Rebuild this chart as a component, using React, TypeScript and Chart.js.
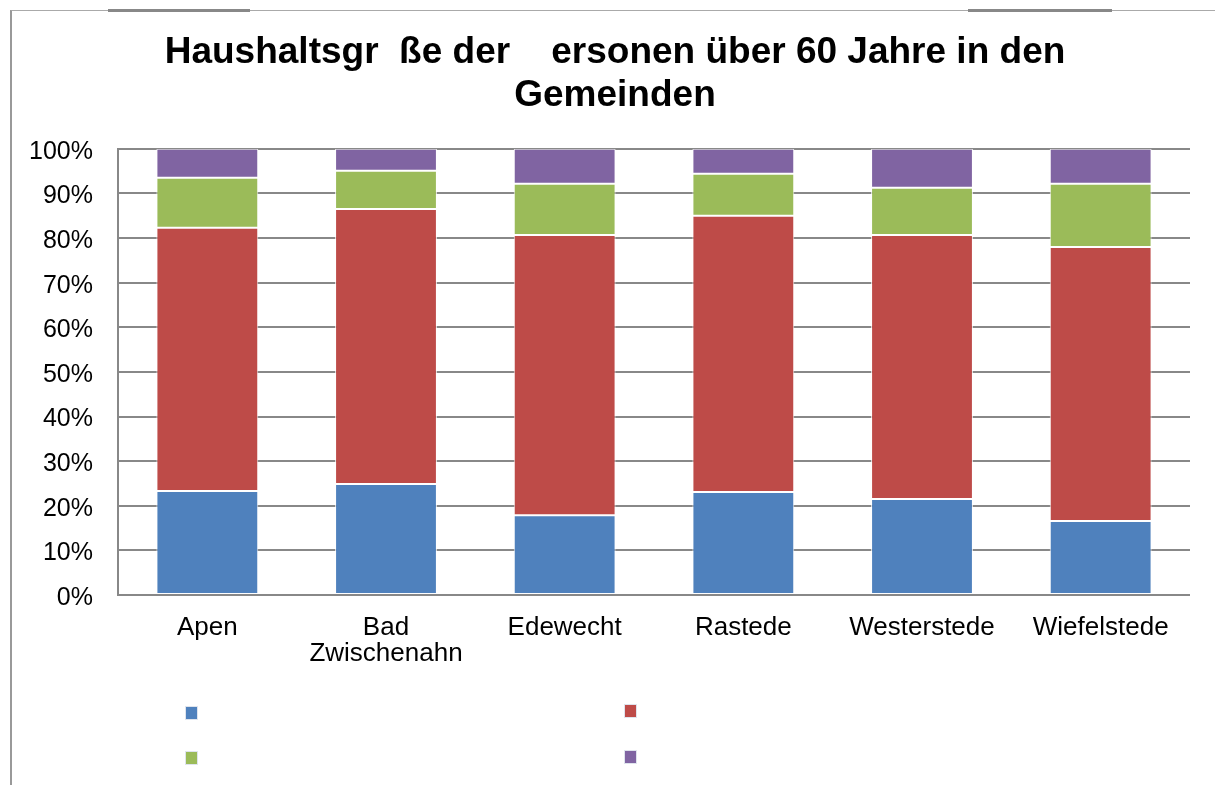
import React, { useEffect, useRef } from "react";
import { Chart, registerables } from "chart.js";

Chart.register(...registerables);

const categories = ["Apen", ["Bad", "Zwischenahn"], "Edewecht", "Rastede", "Westerstede", "Wiefelstede"];
const series1 = [23.3, 24.9, 17.9, 23.1, 21.5, 16.6];
const series2 = [59.0, 61.6, 62.8, 61.9, 59.2, 61.4];
const series3 = [11.2, 8.6, 11.5, 9.4, 10.6, 14.2];
const series4 = [6.5, 4.9, 7.8, 5.6, 8.7, 7.8];
const yTickLabels = ["0%", "10%", "20%", "30%", "40%", "50%", "60%", "70%", "80%", "90%", "100%"];
const titleLines = ["Haushaltsgr  ße der    ersonen über 60 Jahre in den", "Gemeinden"];

const colors = ["#4F81BD", "#BE4B48", "#9BBB59", "#8064A2"];
const FONT = "'Liberation Sans', Arial, Helvetica, sans-serif";

const shiftTitle = {
  id: "shiftTitle",
  afterLayout(chart: any) {
    const t = chart.titleBlock;
    if (t) {
      t.left += 40;
    }
  },
};

export default function App() {
  const ref = useRef<HTMLCanvasElement | null>(null);

  useEffect(() => {
    if (!ref.current) return;
    const seriesList = [series1, series2, series3, series4];
    const chart = new Chart(ref.current, {
      type: "bar",
      data: {
        labels: categories as any,
        datasets: seriesList.map((d, i) => ({
          label: "S" + (i + 1),
          data: d,
          backgroundColor: colors[i],
          borderColor: "rgba(255,255,255,0.85)",
          borderWidth: 1,
          borderSkipped: false,
          barPercentage: 0.57,
          categoryPercentage: 1,
        })),
      },
      plugins: [shiftTitle],
      options: {
        responsive: false,
        animation: false,
        devicePixelRatio: 1,
        layout: { padding: { left: 0, right: 25, top: 0, bottom: 0 } },
        plugins: {
          legend: { display: false },
          tooltip: { enabled: false },
          title: {
            display: true,
            text: titleLines,
            color: "#000",
            font: { family: FONT, size: 37, weight: "bold", lineHeight: 1.16 },
            padding: { top: 31, bottom: 32 },
          },
        },
        scales: {
          x: {
            stacked: true,
            grid: { display: false, drawTicks: false },
            border: { display: false },
            ticks: {
              color: "#000",
              font: { family: FONT, size: 26, lineHeight: 1.0 },
              padding: 20,
              maxRotation: 0,
              autoSkip: false,
            },
            afterFit: (s: any) => {
              s.height = 190;
            },
          },
          y: {
            stacked: true,
            min: 0,
            max: 100,
            grid: { color: "#888", lineWidth: 2, drawTicks: false },
            border: { display: true, color: "#888", width: 2 },
            ticks: {
              stepSize: 10,
              color: "#000",
              padding: 25,
              labelOffset: 3,
              font: { family: FONT, size: 25 },
              callback: (_v: any, i: number) => yTickLabels[i],
            },
            afterFit: (s: any) => {
              s.width = 118;
            },
          },
        },
      },
    });
    return () => chart.destroy();
  }, []);

  const sq = (left: number, top: number, c: string) => (
    <div
      style={{
        position: "absolute",
        left,
        top,
        width: 11,
        height: 12,
        background: c,
        boxShadow: "0 0 0 1px rgba(220,225,235,0.9)",
      }}
    />
  );

  return (
    <div style={{ position: "fixed", left: 0, top: 0, width: 1215, height: 785, background: "#fff", overflow: "hidden" }}>
      <canvas ref={ref} width={1215} height={785} style={{ position: "absolute", left: 0, top: 0 }} />
      <div style={{ position: "absolute", left: 10, top: 10, width: 1205, height: 775, borderTop: "1px solid #aaa", borderLeft: "2px solid #999", pointerEvents: "none" }} />
      <div style={{ position: "absolute", left: 108, top: 9, width: 142, height: 3, background: "#888" }} />
      <div style={{ position: "absolute", left: 968, top: 9, width: 144, height: 3, background: "#888" }} />
      {sq(186, 707, colors[0])}
      {sq(625, 705, colors[1])}
      {sq(186, 752, colors[2])}
      {sq(625, 751, colors[3])}
    </div>
  );
}
